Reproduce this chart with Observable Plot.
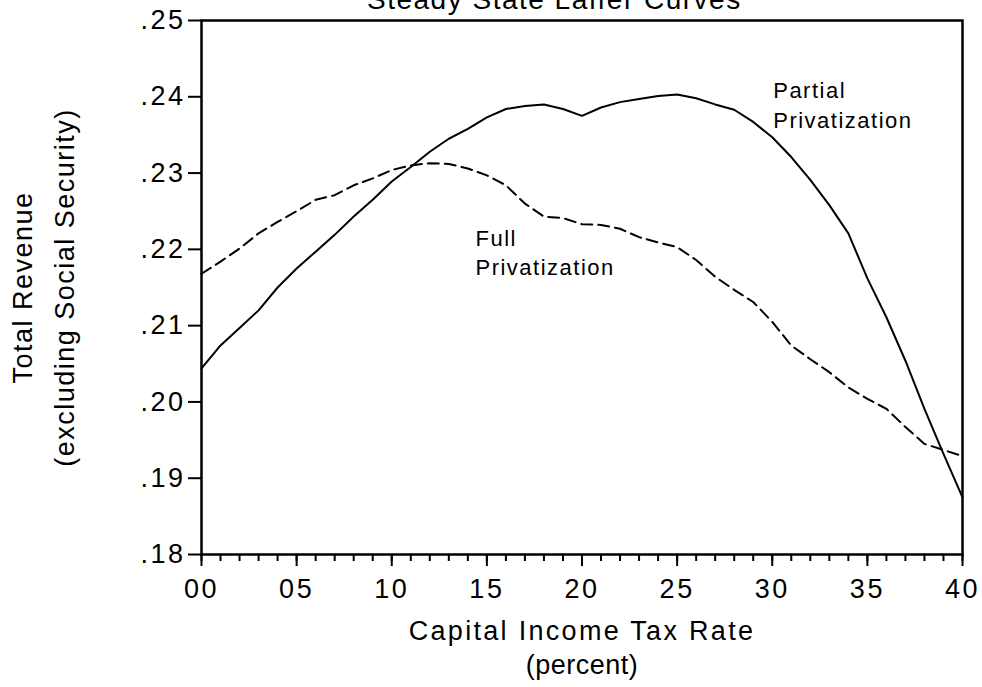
<!DOCTYPE html>
<html>
<head>
<meta charset="utf-8">
<script src="https://cdn.jsdelivr.net/npm/d3@7"></script>
<script src="https://cdn.jsdelivr.net/npm/@observablehq/plot@0.6"></script>
<style>
  html, body { margin: 0; padding: 0; background: #fff; overflow: hidden; }
  #wrap { position: relative; width: 982px; height: 687px; }
  #title { position: absolute; top: -14px; left: 367px; font: 28px "Liberation Sans", Arial, sans-serif; line-height: 28px; white-space: nowrap; color: #000; letter-spacing: 1.5px; z-index: 2; }
  #chart svg text { letter-spacing: 1.5px; }
  #chart svg g[aria-label="x-axis tick label"] text { letter-spacing: 2.5px; }
  #chart svg g[aria-label="y-axis tick label"] text { letter-spacing: 2.5px; }
  #chart svg text.xtitle { letter-spacing: 2.3px; }
  #chart svg text.xsub { letter-spacing: 0.5px; }
</style>
</head>
<body>
<div id="wrap">
  <div id="title">Steady State Laffer Curves</div>
  <div id="chart"></div>
</div>
<script>
const taxRate = [0,1,2,3,4,5,6,7,8,9,10,11,12,13,14,15,16,17,18,19,20,21,22,23,24,25,26,27,28,29,30,31,32,33,34,35,36,37,38,39,40];
const partialPrivatization = [
  0.2044,0.2074,0.2097,0.2120,0.2150,0.2175,0.2197,0.2219,0.2243,0.2265,
  0.2289,0.2308,0.2328,0.2345,0.2358,0.2373,0.2384,0.2388,0.2390,0.2384,
  0.2375,0.2386,0.2393,0.2397,0.2401,0.2403,0.2398,0.2390,0.2383,0.2367,
  0.2347,0.2321,0.2291,0.2258,0.2221,0.2162,0.2111,0.2054,0.1991,0.1932,
  0.1875];
const fullPrivatization = [
  0.2168,0.2184,0.2201,0.2221,0.2236,0.2250,0.2265,0.2271,0.2284,0.2293,
  0.2304,0.2310,0.2313,0.2312,0.2306,0.2297,0.2284,0.2260,0.2243,0.2241,
  0.2233,0.2232,0.2227,0.2216,0.2209,0.2203,0.2186,0.2164,0.2147,0.2131,
  0.2105,0.2074,0.2056,0.2039,0.2019,0.2004,0.1991,0.1967,0.1945,0.1937,
  0.1929];
const xMajorTicks = [0,5,10,15,20,25,30,35,40];
const xMinorTicks = taxRate;
const yTicks = [0.18,0.19,0.20,0.21,0.22,0.23,0.24,0.25];

const partialData = taxRate.map((x, i) => ({x, y: partialPrivatization[i]}));
const fullData = taxRate.map((x, i) => ({x, y: fullPrivatization[i]}));

const chart = Plot.plot({
  width: 982,
  height: 687,
  marginLeft: 201,
  marginRight: 20,
  marginTop: 20,
  marginBottom: 133,
  style: {fontFamily: "'Liberation Sans', Arial, sans-serif", color: "#000", background: "#fff"},
  x: {domain: [0, 40]},
  y: {domain: [0.18, 0.25]},
  marks: [
    Plot.axisX({ticks: xMinorTicks, tickSize: 7, tickFormat: () => "", label: null, strokeWidth: 2}),
    Plot.axisX({ticks: xMajorTicks, tickSize: 12, tickPadding: 12, fontSize: 27, label: null, strokeWidth: 2,
      tickFormat: d => String(d).padStart(2, "0")}),
    Plot.axisY({ticks: yTicks, tickSize: 13, tickPadding: 3, fontSize: 27, label: null, strokeWidth: 2,
      tickFormat: d => d.toFixed(2).replace(/^0/, "")}),
    Plot.line(fullData, {x: "x", y: "y", stroke: "#000", strokeWidth: 2, strokeDasharray: "11,6"}),
    Plot.line(partialData, {x: "x", y: "y", stroke: "#000", strokeWidth: 2}),
    Plot.frame({stroke: "#000", strokeWidth: 2.5}),
    Plot.text(["Full\nPrivatization"], {x: 14.4, y: 0.2198, textAnchor: "start", lineAnchor: "middle", lineHeight: 1.36, fontSize: 22, fill: "#000"}),
    Plot.text(["Partial\nPrivatization"], {x: 30.05, y: 0.2391, textAnchor: "start", lineAnchor: "middle", lineHeight: 1.36, fontSize: 22, fill: "#000"}),
    Plot.text(["Capital Income Tax Rate"], {frameAnchor: "bottom", dy: 77, lineAnchor: "middle", textAnchor: "middle", fontSize: 27, fill: "#000", className: "xtitle"}),
    Plot.text(["(percent)"], {frameAnchor: "bottom", dy: 111, lineAnchor: "middle", textAnchor: "middle", fontSize: 27, fill: "#000", className: "xsub"}),
    Plot.text(["Total Revenue"], {frameAnchor: "left", dx: -178, rotate: -90, lineAnchor: "middle", textAnchor: "middle", fontSize: 27, fill: "#000"}),
    Plot.text(["(excluding Social Security)"], {frameAnchor: "left", dx: -136, rotate: -90, lineAnchor: "middle", textAnchor: "middle", fontSize: 27, fill: "#000"})
  ]
});
document.getElementById("chart").appendChild(chart);
// class names for the two x-axis title texts (for letter spacing only)
chart.querySelectorAll("text").forEach(t => {
  if (t.textContent === "Capital Income Tax Rate") t.classList.add("xtitle");
  if (t.textContent === "(percent)") t.classList.add("xsub");
});
</script>
</body>
</html>
